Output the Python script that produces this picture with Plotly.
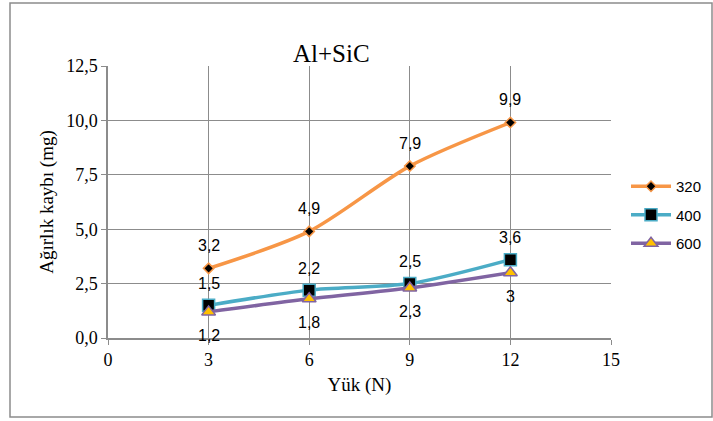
import plotly.graph_objects as go

# Wear loss of Al+SiC versus applied load, for three sliding conditions
load = [3, 6, 9, 12]
series_names = ["320", "400", "600"]
loss_320 = [3.2, 4.9, 7.9, 9.9]
loss_400 = [1.5, 2.2, 2.5, 3.6]
loss_600 = [1.2, 1.8, 2.3, 3.0]

values = [loss_320, loss_400, loss_600]
line_colors = ["#F79646", "#4BACC6", "#8064A2"]
marker_fill = ["#000000", "#000000", "#FFC000"]
marker_symbols = ["diamond", "square", "triangle-up"]
marker_sizes = [8, 12, 12]
label_shift = [23, 22, -24]

W, H = 713, 421
ML, MR, MT, MB = 108, 102, 66, 83
SERIF = "Liberation Serif, Times New Roman, serif"
SANS = "Liberation Sans, Arial, sans-serif"

fig = go.Figure()
for name, ys, lc, mf, sym, ms in zip(series_names, values, line_colors,
                                     marker_fill, marker_symbols, marker_sizes):
    fig.add_trace(go.Scatter(
        x=load, y=ys, name=name, mode="lines+markers", legendgroup=name,
        line=dict(color=lc, width=3.5, shape="spline", smoothing=0.8),
        marker=dict(symbol=sym, size=ms, color=mf, line=dict(color=lc, width=1.5)),
    ))

# value labels next to each point
annotations = []
for ys, dy in zip(values, label_shift):
    for xv, yv in zip(load, ys):
        txt = ("%g" % yv).replace(".", ",")
        annotations.append(dict(
            x=xv, y=yv, xref="x", yref="y", text=txt, showarrow=False,
            yshift=dy, font=dict(family=SANS, size=16, color="#000000"),
        ))

pw, ph = W - ML - MR, H - MT - MB

annotations.append(dict(
    x=(331 - ML) / pw, y=(H - MB - 38) / ph,
    xref="paper", yref="paper", text="Al+SiC", showarrow=False,
    font=dict(family=SERIF, size=25, color="#000000"),
))

fig.update_layout(
    width=W, height=H,
    margin=dict(l=ML, r=MR, t=MT, b=MB, autoexpand=False),
    paper_bgcolor="white", plot_bgcolor="white",
    separators=",.",
    annotations=annotations,
    showlegend=True,
    legend=dict(x=(626 - ML) / pw, y=(H - MB - 170) / ph, xanchor="left", yanchor="top",
                font=dict(family=SANS, size=15, color="#000000"),
                tracegroupgap=6, itemwidth=40, bgcolor="rgba(0,0,0,0)"),
    xaxis=dict(
        range=[0, 15], tickvals=[0, 3, 6, 9, 12, 15], tickformat="d",
        showgrid=True, gridcolor="#8c8c8c", gridwidth=1,
        showline=True, linecolor="#8c8c8c", linewidth=1.5,
        ticks="outside", ticklen=5, tickcolor="#8c8c8c",
        zeroline=False, automargin=False,
        tickfont=dict(family=SERIF, size=18, color="#000000"),
        title=dict(text="Yük (N)", standoff=8,
                   font=dict(family=SERIF, size=19, color="#000000")),
    ),
    yaxis=dict(
        range=[0, 12.5], tickvals=[0, 2.5, 5, 7.5, 10, 12.5], tickformat=".1f",
        showgrid=True, gridcolor="#8c8c8c", gridwidth=1,
        showline=True, linecolor="#8c8c8c", linewidth=1.5,
        ticks="outside", ticklen=5, tickcolor="#8c8c8c",
        zeroline=False, automargin=False,
        tickfont=dict(family=SERIF, size=18, color="#000000"),
        title=dict(text="Ağırlık kaybı (mg)", standoff=8,
                   font=dict(family=SERIF, size=19, color="#000000")),
    ),
    shapes=[dict(
        type="rect", xref="paper", yref="paper",
        x0=(10 - ML) / pw, x1=(712 - ML) / pw,
        y0=(H - MB - 417) / ph, y1=(H - MB - 3) / ph,
        line=dict(color="#8c8c8c", width=1.5), fillcolor="rgba(0,0,0,0)", layer="below",
    )],
)

fig.write_html("out.html")
